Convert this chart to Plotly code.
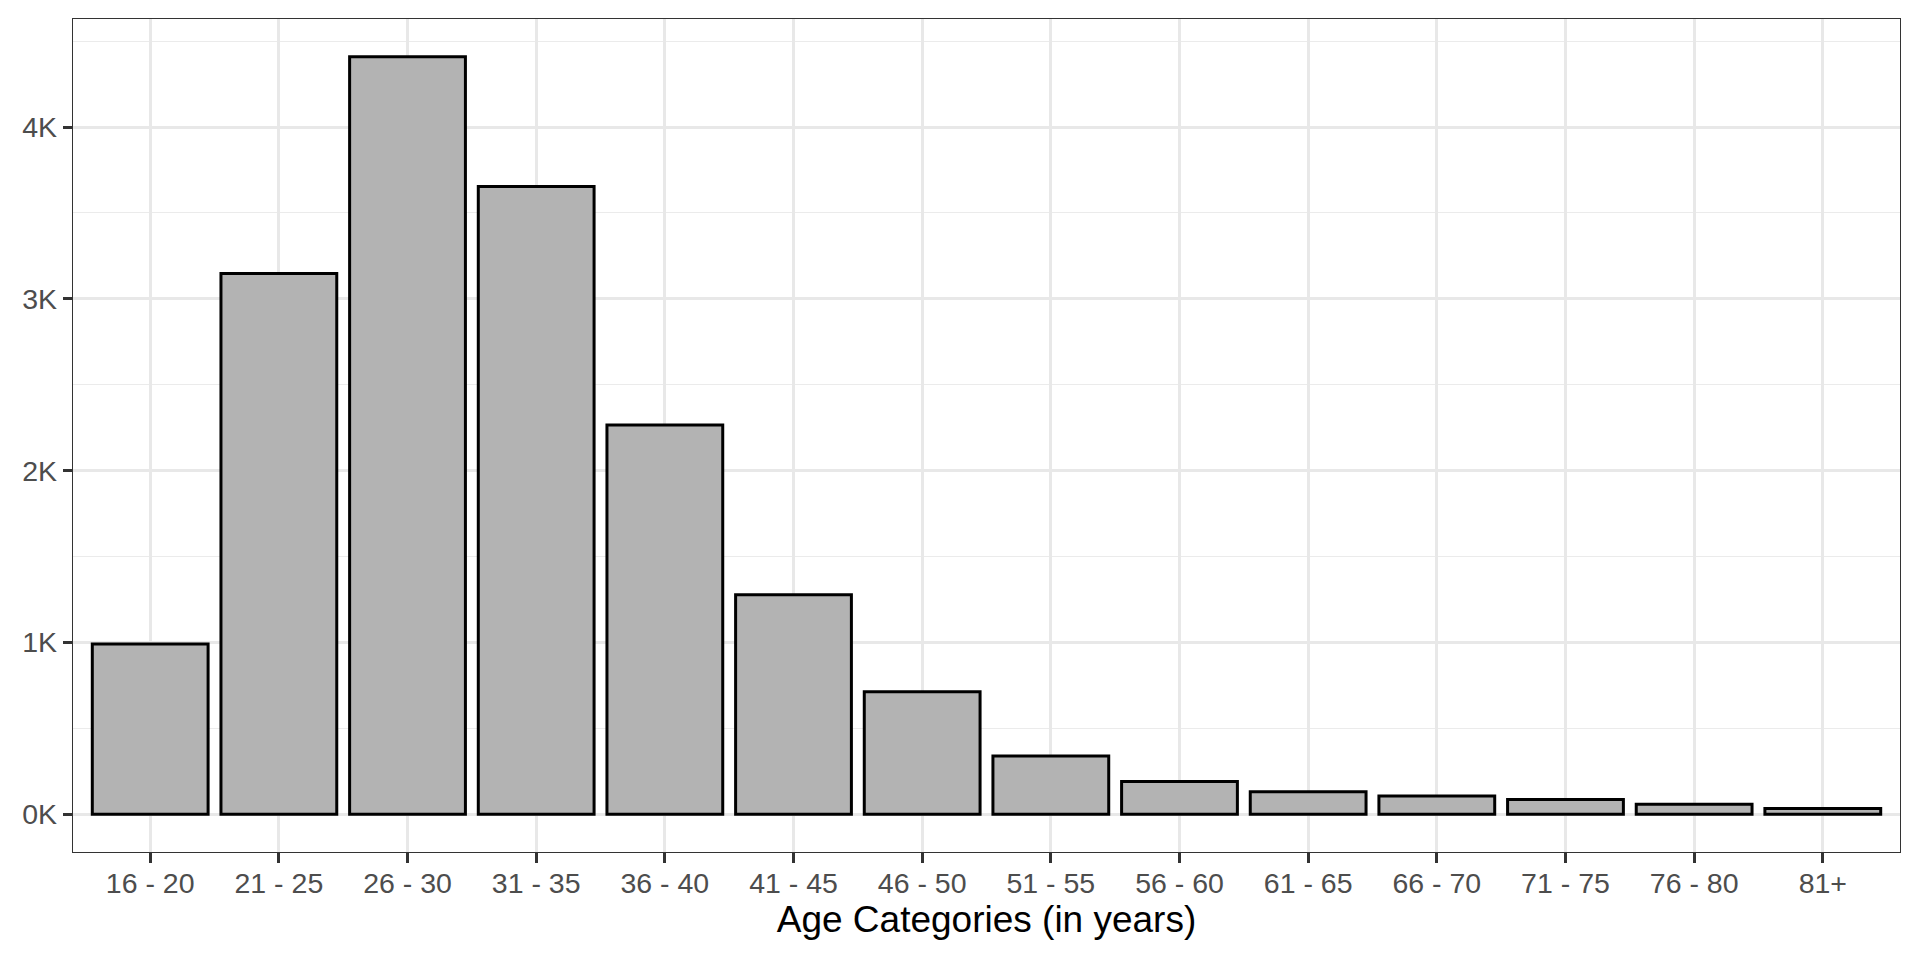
import plotly.graph_objects as go

categories = ["16 - 20", "21 - 25", "26 - 30", "31 - 35", "36 - 40", "41 - 45", "46 - 50",
              "51 - 55", "56 - 60", "61 - 65", "66 - 70", "71 - 75", "76 - 80", "81+"]
counts = [990, 3147, 4409, 3654, 2265, 1278, 713, 339, 190, 131, 105, 85, 58, 33]
y_tickvals = [0, 1000, 2000, 3000, 4000]
y_ticktext = ["0K", "1K", "2K", "3K", "4K"]
x_title = "Age Categories (in years)"

FONT = "Liberation Sans, Arial, sans-serif"

fig = go.Figure(go.Bar(
    x=categories,
    y=counts,
    width=0.9,
    marker=dict(color="#B3B3B3", line=dict(color="black", width=3)),
    hoverinfo="x+y",
))

ymax = max(counts)
fig.update_layout(
    width=1920, height=960,
    margin=dict(l=65, r=28, t=11, b=116, autoexpand=False),
    paper_bgcolor="white",
    plot_bgcolor="white",
    showlegend=False,
    font=dict(family=FONT, color="#4D4D4D", size=28),
    bargap=0.1,
)
fig.update_xaxes(
    type="category",
    range=[-0.6, len(categories) - 0.4],
    showgrid=True, gridcolor="#E8E8E8", gridwidth=2.8,
    showline=True, linecolor="#333333", linewidth=1.4, mirror=True,
    ticks="outside", ticklen=10, tickwidth=2.6, tickcolor="#333333",
    ticklabelstandoff=-4,
    tickfont=dict(family=FONT, size=28.5, color="#4D4D4D"),
    title=dict(text=x_title, font=dict(family=FONT, size=37, color="black"), standoff=6),
    zeroline=False,
)
fig.update_yaxes(
    range=[-0.05 * ymax, 1.05 * ymax],
    tickvals=y_tickvals, ticktext=y_ticktext,
    showgrid=True, gridcolor="#E8E8E8", gridwidth=2.8,
    minor=dict(dtick=500, tick0=0, showgrid=True, gridcolor="#EBEBEB", gridwidth=1.4, ticks=""),
    showline=True, linecolor="#333333", linewidth=1.4, mirror=True,
    ticks="outside", ticklen=9, tickwidth=2.6, tickcolor="#333333",
    tickfont=dict(family=FONT, size=28.5, color="#4D4D4D"),
    zeroline=False,
)

fig.write_html("out.html")
